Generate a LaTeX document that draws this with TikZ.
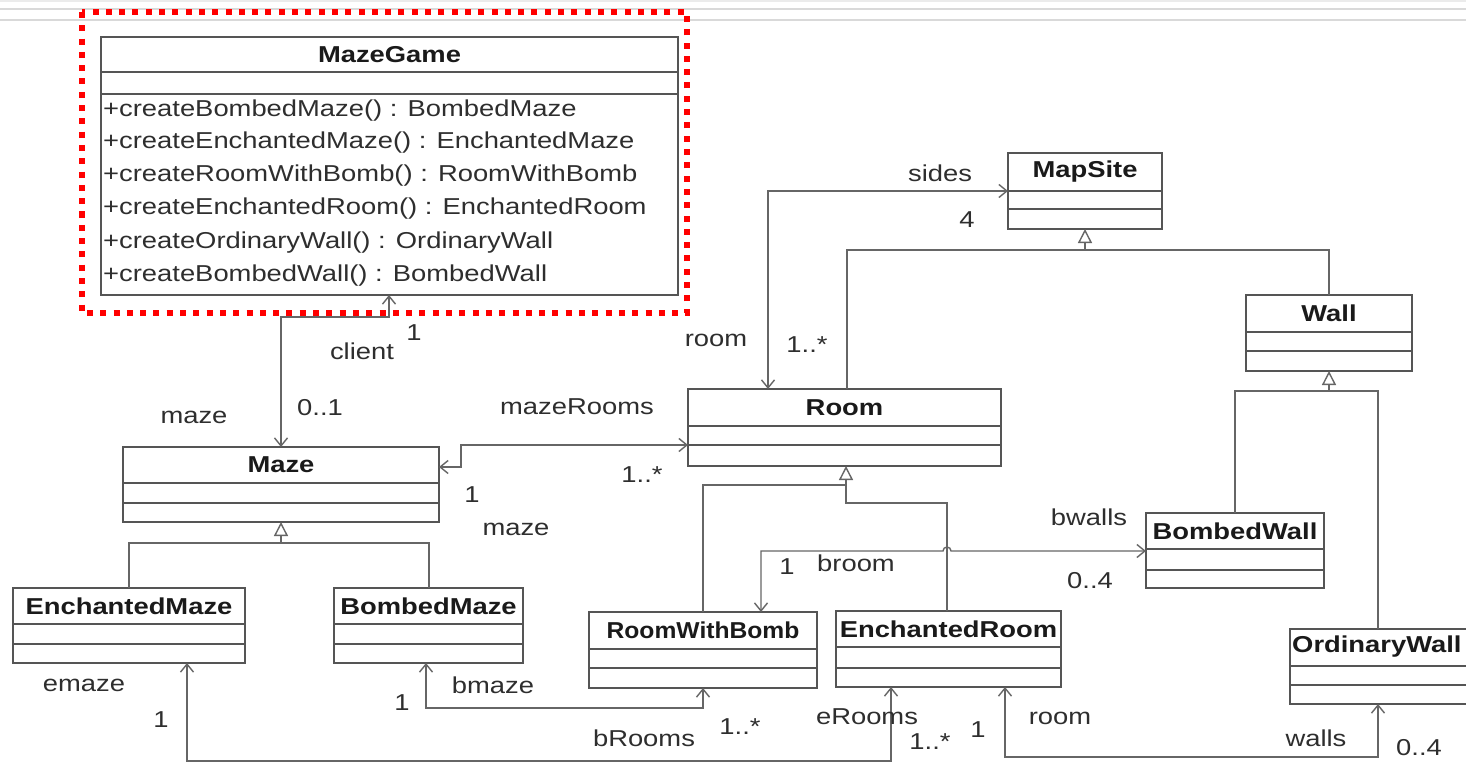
\documentclass[tikz,border=0pt]{standalone}
\usepackage{fontspec}
\usepackage{graphicx}
\usetikzlibrary{arrows.meta}
\newfontfamily\umlfont[FakeStretch=1.19]{Liberation Sans}
\definecolor{boxc}{HTML}{555555}
\definecolor{linec}{HTML}{666666}
\definecolor{txt}{HTML}{1A1A1A}
\definecolor{lbltxt}{HTML}{2E2E2E}
\tikzset{
  cls/.style={draw=boxc, line width=1.8pt, fill=white, inner sep=0pt, outer sep=0pt},
  sepl/.style={draw=boxc, line width=1.8pt},
  ttl/.style={font=\umlfont\fontsize{23}{27}\selectfont\bfseries, text=txt, inner sep=0pt},
  lbl/.style={font=\umlfont\fontsize{23}{27}\selectfont, text=lbltxt, inner sep=0pt},
  assoc/.style={draw=linec, line width=1.4pt},
  barb/.tip={Straight Barb[length=8pt,width=13pt]},
  navboth/.style={barb-barb},
  gen/.style={-{Triangle[open,length=14pt,width=14pt,fill=white]}}
}
\newcommand{\umlclass}[8]{%
  \node[cls, minimum width={(#4)-(#2)}, minimum height={(#5)-(#3)}] (#1) at ({((#2)+(#4))/2},{((#3)+(#5))/2}) {};
  \draw[sepl] (#2,#6) -- (#4,#6);
  \draw[sepl] (#2,#7) -- (#4,#7);
  \node[ttl] (#1-t) at ({((#2)+(#4))/2},{((#3)+(#6))/2}) {#8};
}
\begin{document}
\begin{tikzpicture}[x=1pt,y=-1pt]
\useasboundingbox[fill=white] (0,0) rectangle (1466,762);
% slide artefact lines
\draw[black!8, line width=1.5pt] (0,1) -- (1466,1);
\draw[black!15, line width=2pt] (0,9.5) -- (1466,9.5);
\draw[black!15, line width=2pt] (0,20) -- (1466,20);
% red dotted frame
\draw[red, line width=6pt, dash pattern=on 6pt off 7.3pt] (82,12) rectangle (687,313);

% classes
\umlclass{mazegame}{101}{37}{678}{295}{72}{94}{MazeGame}
\umlclass{maze}{123}{447}{439}{522}{483}{503}{Maze}
\umlclass{room}{688}{389}{1001}{466}{426}{445}{Room}
\umlclass{mapsite}{1008}{153}{1162}{229}{191}{209}{MapSite}
\umlclass{wall}{1246}{295}{1412}{371}{332}{351}{Wall}
\umlclass{bwall}{1146}{513}{1324}{588}{549}{570}{BombedWall}
\umlclass{owall}{1290}{629}{1474}{704}{666}{685}{}
\node[ttl, anchor=west] (owall-title) at (1292,647) {OrdinaryWall};
\umlclass{rwb}{589}{612}{817}{688}{649}{668}{\scalebox{0.9}[1]{RoomWithBomb}}
\umlclass{eroom}{836}{611}{1061}{687}{647}{668}{EnchantedRoom}
\umlclass{emaze}{13}{588}{245}{663}{624}{644}{EnchantedMaze}
\umlclass{bmaze}{334}{588}{523}{663}{624}{644}{BombedMaze}

% methods of MazeGame
\node[lbl, anchor=west] (m1) at (103,111) {+createBombedMaze() : BombedMaze};
\node[lbl, anchor=west] (m2) at (103,143) {+createEnchantedMaze() : EnchantedMaze};
\node[lbl, anchor=west] (m3) at (103,176) {+createRoomWithBomb() : RoomWithBomb};
\node[lbl, anchor=west] (m4) at (103,209) {+createEnchantedRoom() : EnchantedRoom};
\node[lbl, anchor=west] (m5) at (103,243) {+createOrdinaryWall() : OrdinaryWall};
\node[lbl, anchor=west] (m6) at (103,276) {+createBombedWall() : BombedWall};

% associations
\draw[assoc, navboth] (mazegame.south -| 389,0) -- (389,317) -- (maze.north |- 0,317) -- (maze.north);
\draw[assoc, navboth] (maze.east |- 0,467) -- (461,467) -- (461,445) -- (room.west |- 0,445);
\draw[assoc, navboth] (room.north -| 768,0) -- (768,191) -- (mapsite.west |- 0,191);
\draw[assoc, navboth] (rwb.north -| 761,0) -- (761,551) -- (943,551)
   arc[start angle=180, end angle=0, radius=4pt] -- (bwall.west |- 0,551);
\draw[assoc, navboth] (bmaze.south -| 426,0) -- (426,708) -- (rwb.south |- 0,708) -- (rwb.south);
\draw[assoc, navboth] (emaze.south -| 187,0) -- (187,761) -- (891,761) -- (eroom.south -| 891,0);
\draw[assoc, navboth] (eroom.south -| 1005,0) -- (1005,757) -- (1378,757) -- (owall.south -| 1378,0);

% generalizations
\coordinate (j1) at (1085,250);
\draw[assoc, gen] (j1) -- (mapsite.south -| j1);
\draw[assoc] (room.north -| 847,0) -- (847,250) -- (j1);
\draw[assoc] (wall.north) -- (wall.north |- j1) -- (j1);

\coordinate (j2) at (1329,391);
\draw[assoc, gen] (j2) -- (wall.south);
\draw[assoc] (bwall.north) -- (bwall.north |- j2) -- (j2);
\draw[assoc] (owall.north -| 1378,0) -- (1378,391) -- (j2);

\coordinate (j3) at (846,485);
\draw[assoc, gen] (j3) -- (room.south -| j3);
\draw[assoc] (rwb.north) -- (rwb.north |- j3) -- (j3);
\draw[assoc] (eroom.north -| 947,0) -- (947,503) -- (846,503) -- (j3);

\coordinate (j4) at (281,543);
\draw[assoc, gen] (j4) -- (maze.south);
\draw[assoc] (emaze.north -| 129,0) -- (129,543) -- (j4);
\draw[assoc] (bmaze.north -| 429,0) -- (429,543) -- (j4);

% labels
\node[lbl] (l1) at (414,333) {1};
\node[lbl] (l2) at (362,351) {client};
\node[lbl] (l3) at (320,408) {0..1};
\node[lbl] (l4) at (194,417) {maze};
\node[lbl] (l5) at (577,407) {mazeRooms};
\node[lbl] (l6) at (642,475) {1..*};
\node[lbl] (l7) at (472,495) {1};
\node[lbl] (l8) at (516,529) {maze};
\node[lbl] (l9) at (940,173) {sides};
\node[lbl] (l10) at (967,220) {4};
\node[lbl] (l11) at (716,340) {room};
\node[lbl] (l12) at (807,345) {1..*};
\node[lbl] (l13) at (1089,517) {bwalls};
\node[lbl] (l14) at (1090,581) {0..4};
\node[lbl] (l15) at (787,567) {1};
\node[lbl] (l16) at (856,563) {broom};
\node[lbl] (l17) at (84,685) {emaze};
\node[lbl] (l18) at (161,720) {1};
\node[lbl] (l19) at (402,703) {1};
\node[lbl] (l20) at (493,685) {bmaze};
\node[lbl] (l21) at (644,738) {bRooms};
\node[lbl] (l22) at (740,727) {1..*};
\node[lbl] (l23) at (867,717) {eRooms};
\node[lbl] (l24) at (930,742) {1..*};
\node[lbl] (l25) at (978,730) {1};
\node[lbl] (l26) at (1060,718) {room};
\node[lbl] (l27) at (1316,738) {walls};
\node[lbl] (l28) at (1419,748) {0..4};
\end{tikzpicture}
\end{document}
